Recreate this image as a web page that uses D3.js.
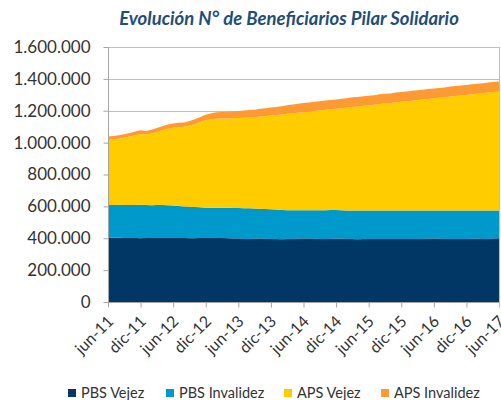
<!DOCTYPE html>
<html>
<head>
<meta charset="utf-8">
<script src="https://cdn.jsdelivr.net/npm/d3@7"></script>
<style>
  body { margin: 0; background: #fff; }
  svg { display: block; }
</style>
</head>
<body>
<div id="chart"></div>
<script>
// monthly values, jun-11 .. jun-17 (thousands)
var pbsVejez = [
  405, 404, 403, 402, 401, 401, 400, 401, 402, 401, 401, 402,
  402, 401, 401, 400, 400, 401, 402, 402, 402, 401, 400, 399,
  398, 396, 396, 397, 398, 397, 396, 395, 394, 395, 396, 397,
  398, 398, 397, 396, 395, 396, 397, 397, 396, 395, 394, 395,
  396, 396, 395, 395, 395, 396, 396, 396, 395, 395, 396, 397,
  398, 397, 396, 395, 395, 396, 396, 397, 397, 396, 396, 398, 400
];
var pbsInvalidez = [
  204, 205, 207, 207, 207, 208, 210, 207, 205, 207, 208, 205,
  203, 202, 199, 198, 196, 193, 190, 189, 189, 190, 191, 191,
  192, 193, 192, 190, 187, 187, 186, 185, 184, 181, 179, 178,
  177, 178, 178, 179, 180, 181, 180, 178, 178, 179, 180, 179,
  178, 178, 179, 179, 179, 178, 178, 178, 179, 179, 178, 177,
  176, 177, 178, 179, 179, 178, 178, 177, 177, 178, 178, 176, 174
];
var apsVejez = [
  408, 412, 415, 422, 430, 438, 444, 443, 451, 460, 469, 480,
  488, 494, 500, 509, 520, 535, 548, 556, 559, 560, 561, 563,
  564, 567, 570, 573, 579, 583, 588, 593, 599, 605, 609, 613,
  616, 619, 623, 626, 631, 632, 635, 641, 646, 650, 653, 657,
  660, 664, 668, 671, 674, 679, 682, 685, 689, 693, 696, 700,
  704, 707, 710, 715, 718, 721, 725, 729, 732, 736, 740, 743, 747
];
var apsInvalidez = [
  21, 21, 22, 22, 22, 23, 23, 22, 23, 24, 25, 26,
  27, 27, 27, 28, 30, 32, 35, 38, 40, 41, 42, 43,
  44, 45, 46, 47, 48, 49, 50, 51, 52, 54, 55, 56,
  57, 57, 58, 58, 58, 59, 59, 59, 59, 60, 60, 60,
  60, 60, 61, 61, 61, 61, 61, 62, 62, 62, 62, 62,
  62, 62, 62, 63, 63, 63, 63, 63, 63, 63, 64, 64, 63
];
var tickLabels = ["jun-11", "dic-11", "jun-12", "dic-12", "jun-13", "dic-13", "jun-14",
                  "dic-14", "jun-15", "dic-15", "jun-16", "dic-16", "jun-17"];
var seriesNames = ["PBS Vejez", "PBS Invalidez", "APS Vejez", "APS Invalidez"];
var colors = ["#003764", "#0099cc", "#ffcc00", "#ff9933"];

var width = 501, height = 400;
var plotLeft = 108, plotRight = 499, plotTop = 47, plotBottom = 302;

var table = pbsVejez.map(function(d, i) {
  return {
    i: i,
    "PBS Vejez": d * 1000,
    "PBS Invalidez": pbsInvalidez[i] * 1000,
    "APS Vejez": apsVejez[i] * 1000,
    "APS Invalidez": apsInvalidez[i] * 1000
  };
});

var x = d3.scaleLinear().domain([0, pbsVejez.length - 1]).range([plotLeft, plotRight]);
var y = d3.scaleLinear().domain([0, 1600000]).range([plotBottom, plotTop]);

var svg = d3.select("#chart").append("svg")
    .attr("width", width)
    .attr("height", height)
    .style("font-family", "Lato, 'Open Sans', sans-serif");

// title
svg.append("text")
    .attr("x", 289)
    .attr("y", 25)
    .attr("text-anchor", "middle")
    .style("font-size", "18.5px")
    .style("font-weight", "bold")
    .style("font-style", "italic")
    .style("fill", "#1f4e79")
    .text("Evolución N° de Beneficiarios Pilar Solidario");

// gridlines
var yTicks = d3.range(0, 1600001, 200000);
svg.append("g").selectAll("line")
    .data(yTicks.slice(1))
  .enter().append("line")
    .attr("x1", plotLeft).attr("x2", plotRight + 1)
    .attr("y1", function(d) { return Math.round(y(d)) + 0.5; })
    .attr("y2", function(d) { return Math.round(y(d)) + 0.5; })
    .style("stroke", "#bfbfbf");

// stacked areas
var stack = d3.stack().keys(seriesNames);
var area = d3.area()
    .x(function(d) { return x(d.data.i); })
    .y0(function(d) { return y(d[0]); })
    .y1(function(d) { return y(d[1]); });

svg.append("g").selectAll("path")
    .data(stack(table))
  .enter().append("path")
    .attr("d", area)
    .style("fill", function(d, i) { return colors[i]; });

// y axis
var yAxis = d3.axisLeft(y)
    .tickValues(yTicks)
    .tickSize(5)
    .tickPadding(13)
    .tickFormat(function(d) { return d3.format(",")(d).replace(/,/g, "."); });

var gy = svg.append("g")
    .attr("transform", "translate(" + (plotLeft + 0.5) + ",0)")
    .call(yAxis);
gy.select(".domain").style("stroke", "#a6a6a6").attr("d", "M0," + plotTop + "V" + plotBottom);
gy.selectAll(".tick line").style("stroke", "#a6a6a6");
gy.selectAll(".tick text")
    .style("font-size", "17px")
    .style("fill", "#333")
    .style("font-family", "Lato, sans-serif");

// x axis
var xAxis = d3.axisBottom(x)
    .tickValues(d3.range(0, pbsVejez.length, 6))
    .tickSize(5)
    .tickFormat(function(d, i) { return tickLabels[i]; });

var gx = svg.append("g")
    .attr("transform", "translate(0," + (plotBottom + 0.5) + ")")
    .call(xAxis);
gx.select(".domain").style("stroke", "#a6a6a6").attr("d", "M" + plotLeft + ",0H" + (plotRight + 1));
gx.selectAll(".tick line").style("stroke", "#a6a6a6");
gx.selectAll(".tick text")
    .style("font-size", "16px")
    .style("fill", "#333")
    .style("font-family", "Lato, sans-serif")
    .attr("text-anchor", "end")
    .attr("dy", "0.35em")
    .attr("transform", "translate(2,16) rotate(-45)")
    .attr("y", 0)
    .attr("x", 0);

// right edge line
svg.append("line")
    .attr("x1", plotRight + 0.5).attr("x2", plotRight + 0.5)
    .attr("y1", plotTop).attr("y2", plotBottom + 5)
    .style("stroke", "#bfbfbf");

// legend
var legendX = [68, 166, 284, 381];
var legend = svg.append("g").selectAll("g")
    .data(seriesNames)
  .enter().append("g")
    .attr("transform", function(d, i) { return "translate(" + legendX[i] + ",389)"; });

legend.append("rect")
    .attr("width", 8).attr("height", 8)
    .style("fill", function(d, i) { return colors[i]; });

legend.append("text")
    .attr("x", 13)
    .attr("y", 9)
    .style("font-size", "14.5px")
    .style("fill", "#333")
    .text(function(d) { return d; });
</script>
</body>
</html>
